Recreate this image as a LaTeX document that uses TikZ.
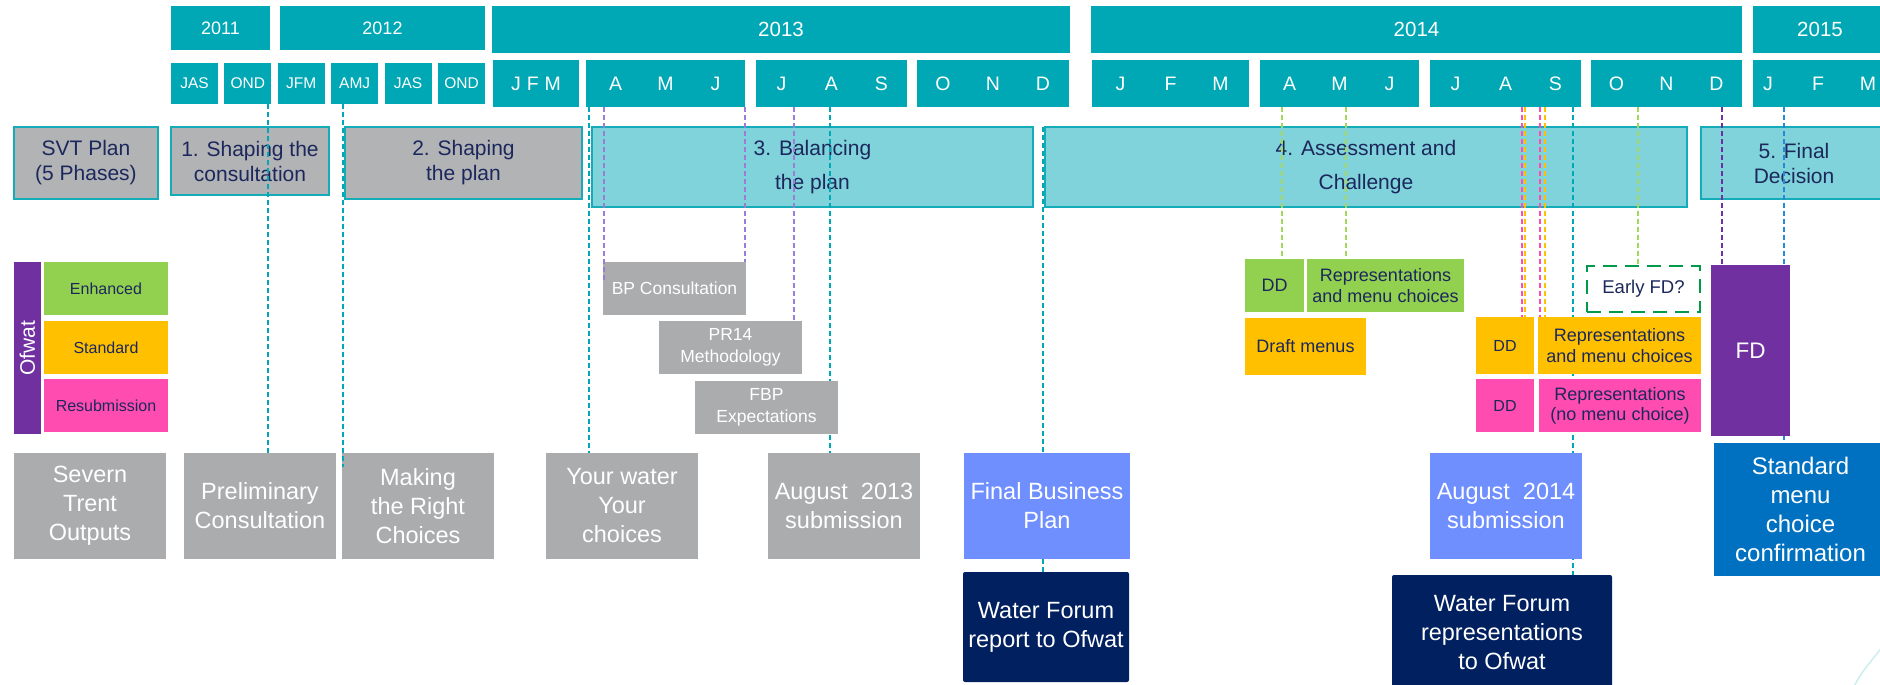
\documentclass[tikz,border=0pt]{standalone}
\usepackage{fontspec}
\setmainfont{Liberation Sans}
\usetikzlibrary{positioning}
\definecolor{tealbar}{RGB}{0,168,181}
\definecolor{tealedge}{RGB}{20,172,184}
\definecolor{paleteal}{RGB}{128,211,218}
\definecolor{phasegray}{RGB}{178,179,181}
\definecolor{boxgray}{RGB}{171,172,174}
\definecolor{inkblue}{RGB}{28,40,92}
\definecolor{forumnavy}{RGB}{0,32,96}
\definecolor{planblue}{RGB}{111,143,255}
\definecolor{menublue}{RGB}{0,112,192}
\definecolor{enhgreen}{RGB}{146,208,80}
\definecolor{stdorange}{RGB}{255,192,0}
\definecolor{resubpink}{RGB}{255,76,176}
\definecolor{ofwatpurple}{RGB}{112,48,160}
\definecolor{lavender}{RGB}{155,125,215}
\definecolor{limegreen}{RGB}{165,215,90}
\definecolor{earlygreen}{RGB}{0,155,72}
\definecolor{linkblue}{RGB}{40,135,215}
\pgfdeclarelayer{lines}
\pgfdeclarelayer{front}
\pgfsetlayers{main,lines,front}
\newcommand{\qtr}[3]{\makebox[0pt]{\makebox[50pt]{#1}\makebox[50pt]{#2}\makebox[50pt]{#3}}}

\begin{document}
\begin{tikzpicture}[
            x=1pt, y=-1pt,
            yr/.style={fill=tealbar, text=white, inner sep=0pt, outer sep=0pt, minimum height=47pt, font=\fontsize{20.5}{24}\selectfont},
            yrs/.style={yr, minimum height=44pt, font=\fontsize{18}{22}\selectfont},
            mon/.style={fill=tealbar, text=white, inner sep=0pt, outer sep=0pt, minimum height=47pt, font=\fontsize{19.5}{23}\selectfont},
            smon/.style={mon, minimum height=41pt, minimum width=47pt, font=\fontsize{15.5}{18}\selectfont},
            phasebox/.style={draw=tealedge, line width=2pt, fill=phasegray, text=inkblue, align=center, inner sep=0pt, outer sep=0pt, font=\fontsize{21}{25}\selectfont},
            phasel/.style={phasebox, fill=paleteal, font=\fontsize{21}{33.5}\selectfont},
            leg/.style={text=inkblue, inner sep=0pt, outer sep=0pt, minimum width=124pt, minimum height=53pt, font=\fontsize{16}{19}\selectfont},
            gbox/.style={fill=boxgray, text=white, align=center, inner sep=0pt, outer sep=0pt, minimum width=143pt, minimum height=53pt, font=\fontsize{17.5}{22}\selectfont},
            tag/.style={text=inkblue, align=center, inner sep=0pt, outer sep=0pt, font=\fontsize{18}{21}\selectfont},
            outp/.style={fill=boxgray, text=white, align=center, inner sep=0pt, outer sep=0pt, minimum width=152pt, minimum height=106pt, font=\fontsize{23.5}{29}\selectfont},
            forum/.style={outp, fill=forumnavy, rounded corners=2pt},
            vl/.style={dash pattern=on 5pt off 3pt, line width=1.8pt}
        ]
            \fill[white] (0,0) rectangle (1880,685);
            \useasboundingbox (0,0) rectangle (1880,685);

            % years
            \node[yrs, minimum width=99pt] (y11) at (220.5,28) {2011};
            \node[yrs, minimum width=205pt] (y12) at (382.5,28) {2012};
            \node[yr, minimum width=578pt] (y13) at (781,29.5) {2013};
            \node[yr, minimum width=651pt] (y14) at (1416.5,29.5) {2014};
            \node[yr, minimum width=134pt] (y15) at (1820,29.5) {2015};

            % quarters
            \node[smon] (jas11) at (194.5,83.5) {JAS};
            \node[smon, right=6.4pt of jas11] (ond11) {OND};
            \node[smon, right=6.4pt of ond11] (jfm12) {JFM};
            \node[smon, right=6.4pt of jfm12] (amj12) {AMJ};
            \node[smon, right=6.4pt of amj12] (jas12) {JAS};
            \node[smon, right=6.4pt of jas12] (ond12) {OND};
            \node[mon, minimum width=86pt] (jfm13) at (536,83.5) {J\hspace{6pt}F\hspace{6pt}M};
            \node[mon, minimum width=159pt, right=7pt of jfm13] (amj13) {\qtr{A}{M}{J}};
            \node[mon, minimum width=151pt, right=11pt of amj13] (jas13) {\qtr{J}{A}{S}};
            \node[mon, minimum width=152pt, right=10pt of jas13] (ond13) {\qtr{O}{N}{D}};
            \node[mon, minimum width=157pt, right=23pt of ond13] (jfm14) {\qtr{J}{F}{M}};
            \node[mon, minimum width=159pt, right=11pt of jfm14] (amj14) {\qtr{A}{M}{J}};
            \node[mon, minimum width=151pt, right=11pt of amj14] (jas14) {\qtr{J}{A}{S}};
            \node[mon, minimum width=151pt, right=10pt of jas14] (ond14) {\qtr{O}{N}{D}};
            \node[mon, minimum width=130pt, right=11pt of ond14] (jfm15) {\qtr{J}{F}{M}};

            % phases
            \node[phasebox, minimum width=144pt, minimum height=72pt] (svt) at (86,163) {SVT Plan\\(5 Phases)};
            \node[phasebox, minimum width=158pt, minimum height=68pt] (ph1) at (250,161) {1. Shaping the\\consultation};
            \node[phasebox, minimum width=237pt, minimum height=72pt] (ph2) at (463.5,163) {2. Shaping\\the plan};
            \node[phasel, minimum width=441pt, minimum height=80pt] (ph3) at (812.5,167) {3. Balancing\\the plan};
            \node[phasel, minimum width=642pt, minimum height=80pt] (ph4) at (1366,167) {4. Assessment and\\Challenge};
            \node[phasel, minimum width=186pt, minimum height=72pt, font=\fontsize{21}{25}\selectfont] (ph5) at (1794,163) {5. Final\\Decision};

            % Ofwat key
            \node[fill=ofwatpurple, text=white, rotate=90, inner sep=0pt, minimum width=172pt, minimum height=27pt, font=\fontsize{21}{25}\selectfont] (ofwat) at (27.5,348) {Ofwat};
            \node[leg, fill=enhgreen] (enh) at (106,288.5) {Enhanced};
            \node[leg, fill=stdorange] (std) at (106,347.5) {Standard};
            \node[leg, fill=resubpink] (resub) at (106,405.5) {Resubmission};

            \begin{pgfonlayer}{front}
            % consultation steps
            \node[gbox] (bpcons) at (674.5,288.5) {BP Consultation};
            \node[gbox] (pr14) at (730.5,347.5) {PR14\\Methodology};
            \node[gbox] (fbpexp) at (766.5,407.5) {FBP\\Expectations};

            % Ofwat outcomes
            \node[tag, fill=enhgreen, minimum width=59pt, minimum height=53pt] (ddA) at (1274.5,285.5) {DD};
            \node[tag, fill=enhgreen, minimum width=157pt, minimum height=53pt] (repA) at (1385.5,285.5) {Representations\\and menu choices};
            \node[tag, fill=stdorange, minimum width=121pt, minimum height=57pt] (draft) at (1305.5,346.5) {Draft menus};
            \node[tag, fill=stdorange, minimum width=58pt, minimum height=57pt, font=\fontsize{16}{19}\selectfont] (ddB) at (1505,345.5) {DD};
            \node[tag, fill=stdorange, minimum width=163pt, minimum height=57pt] (repB) at (1619.5,345.5) {Representations\\and menu choices};
            \node[tag, fill=resubpink, minimum width=58pt, minimum height=53pt, font=\fontsize{16}{19}\selectfont] (ddC) at (1505,405.5) {DD};
            \node[tag, fill=resubpink, minimum width=162pt, minimum height=53pt, font=\fontsize{18}{20}\selectfont] (repC) at (1620,405.5) {Representations\\(no menu choice)};
            \node[tag, fill=white, draw=earlygreen, line width=2.5pt, dash pattern=on 14pt off 8pt, minimum width=113pt, minimum height=46pt, font=\fontsize{18.5}{22}\selectfont] (early) at (1643.5,289) {Early FD?};
            \node[fill=ofwatpurple, text=white, inner sep=0pt, outer sep=0pt, minimum width=79pt, minimum height=171pt, font=\fontsize{22.5}{26}\selectfont] (fd) at (1750.5,350.5) {FD};

            % outputs
            \node[outp] (severn) at (90,506) {Severn\\Trent\\Outputs};
            \node[outp] (prelim) at (260,506) {Preliminary\\Consultation};
            \node[outp] (making) at (418,506) {Making\\the Right\\Choices};
            \node[outp] (yours) at (622,506) {Your water\\Your\\choices};
            \node[outp] (aug13) at (844,506) {August\ \ 2013\\submission};
            \node[outp, fill=planblue, minimum width=166pt] (fbplan) at (1047,506) {Final Business\\Plan};
            \node[outp, fill=planblue] (aug14) at (1506,506) {August\ \ 2014\\submission};
            \node[outp, fill=menublue, minimum width=173pt, minimum height=133pt, font=\fontsize{24}{29}\selectfont] (stdmenu) at (1800.5,509.5) {Standard\\menu\\choice\\confirmation};
            \node[forum, minimum width=166pt, minimum height=110pt] (wfrep) at (1046,627) {Water Forum\\report to Ofwat};
            \node[forum, minimum width=220pt, minimum height=115pt] (wfreps) at (1502,632.5) {Water Forum\\representations\\to Ofwat};

            % links drawn over their boxes
            \draw[vl, tealbar] (amj12.south -| 343,0) -- ([yshift=-14pt]making.north -| 343,0);
            \draw[vl, lavender] (amj13.south -| 604,0) -- ([yshift=-21pt]bpcons.north -| 604,0);
            \end{pgfonlayer}

            \begin{pgfonlayer}{lines}
            % timing links
            \draw[vl, tealbar] (ond11.south -| 268,0) -- (prelim.north -| 268,0);
            \draw[vl, tealbar] (amj13.south -| 589,0) -- (yours.north -| 589,0);
            \draw[vl, tealbar] (jas13.south -| 830,0) -- (aug13.north -| 830,0);
            \draw[vl, tealbar] (ph4.north -| 1043,0) -- (wfrep.north -| 1043,0);
            \draw[vl, tealbar] (jas14.south -| 1573,0) -- (wfreps.north -| 1573,0);
            \draw[vl, lavender] (amj13.south -| 745,0) -- (bpcons.north -| 745,0);
            \draw[vl, lavender] (jas13.south -| 794,0) -- (pr14.north -| 794,0);
            \draw[vl, limegreen] (amj14.south -| 1282,0) -- (ddA.north -| 1282,0);
            \draw[vl, limegreen] (amj14.south -| 1346,0) -- (repA.north -| 1346,0);
            \draw[vl, limegreen] (ond14.south -| 1638,0) -- (early.north -| 1638,0);
            \draw[vl, resubpink] (jas14.south -| 1522,0) -- (ddB.north -| 1522,0);
            \draw[vl, stdorange] (jas14.south -| 1525,0) -- (ddB.north -| 1525,0);
            \draw[vl, resubpink] (jas14.south -| 1540,0) -- (repB.north -| 1540,0);
            \draw[vl, stdorange] (jas14.south -| 1545,0) -- (repB.north -| 1545,0);
            \draw[vl, ofwatpurple] (ond14.south -| 1722,0) -- (fd.north -| 1722,0);
            \draw[vl, linkblue] (jfm15.south -| 1784,0) -- (stdmenu.north -| 1784,0);
            \end{pgfonlayer}

            % corner swoosh
            \draw[tealbar!20, line width=1.5pt] (1853,688) .. controls (1862,672) .. (1884,645);
        \end{tikzpicture}
\end{document}
